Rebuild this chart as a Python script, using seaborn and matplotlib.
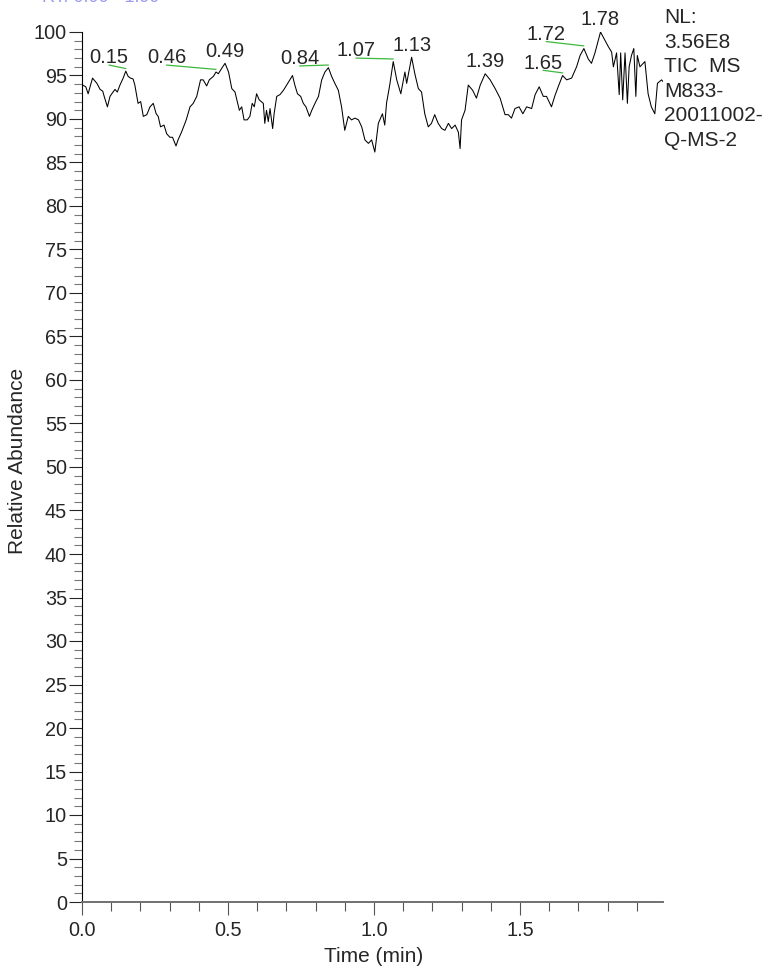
import numpy as np
import pandas as pd
import matplotlib
matplotlib.use("Agg")
import matplotlib.pyplot as plt
import seaborn as sns
from matplotlib.ticker import MultipleLocator, FormatStrFormatter

# TIC trace
time_min = [0.002, 0.013, 0.021, 0.036, 0.051, 0.062, 0.071, 0.076, 0.087, 0.096,
            0.102, 0.113, 0.121, 0.130, 0.141, 0.150, 0.158, 0.166, 0.175, 0.181,
            0.192, 0.201, 0.210, 0.222, 0.233, 0.244, 0.254, 0.261, 0.269, 0.281,
            0.290, 0.301, 0.310, 0.322, 0.329, 0.341, 0.357, 0.370, 0.381, 0.393,
            0.406, 0.415, 0.427, 0.436, 0.450, 0.459, 0.467, 0.478, 0.490, 0.502,
            0.513, 0.524, 0.539, 0.547, 0.555, 0.566, 0.575, 0.583, 0.590, 0.598,
            0.607, 0.621, 0.626, 0.632, 0.638, 0.644, 0.653, 0.658, 0.667, 0.678,
            0.690, 0.701, 0.712, 0.721, 0.729, 0.738, 0.749, 0.758, 0.767, 0.779,
            0.787, 0.798, 0.810, 0.821, 0.832, 0.844, 0.855, 0.866, 0.878, 0.889,
            0.900, 0.912, 0.923, 0.935, 0.947, 0.958, 0.969, 0.981, 0.992, 1.003,
            1.015, 1.029, 1.037, 1.043, 1.054, 1.066, 1.078, 1.092, 1.106, 1.112,
            1.129, 1.140, 1.152, 1.163, 1.174, 1.186, 1.197, 1.208, 1.220, 1.232,
            1.243, 1.255, 1.266, 1.278, 1.289, 1.295, 1.300, 1.312, 1.323, 1.338,
            1.351, 1.364, 1.381, 1.398, 1.415, 1.432, 1.449, 1.460, 1.471, 1.483,
            1.497, 1.510, 1.523, 1.540, 1.552, 1.566, 1.580, 1.591, 1.608, 1.620,
            1.631, 1.646, 1.660, 1.677, 1.694, 1.706, 1.719, 1.734, 1.745, 1.757,
            1.776, 1.787, 1.803, 1.814, 1.820, 1.831, 1.840, 1.845, 1.852, 1.860,
            1.868, 1.874, 1.882, 1.890, 1.897, 1.902, 1.911, 1.928, 1.939, 1.950,
            1.962, 1.971, 1.985, 1.990]
rel_abund = [93.9, 93.7, 92.9, 94.7, 94.1, 93.4, 93.2, 92.6, 91.4, 92.6,
             92.9, 93.4, 93.1, 93.9, 94.7, 95.5, 94.9, 94.7, 94.6, 93.9,
             91.8, 92.0, 90.3, 90.5, 91.4, 91.8, 90.6, 90.3, 89.1, 89.3,
             88.3, 87.9, 87.9, 86.9, 87.6, 88.5, 89.9, 91.4, 91.8, 92.6,
             94.5, 94.5, 93.8, 94.5, 94.9, 95.4, 95.2, 95.8, 96.4, 95.4,
             93.5, 93.1, 91.0, 91.4, 89.9, 89.9, 90.3, 91.8, 91.4, 92.9,
             92.2, 91.8, 89.5, 91.0, 89.7, 91.2, 88.9, 90.6, 92.6, 92.8,
             93.3, 93.9, 94.5, 95.0, 93.9, 92.9, 92.6, 91.8, 91.4, 90.3,
             91.0, 91.8, 92.6, 94.5, 95.4, 95.9, 94.9, 94.1, 93.3, 91.4,
             88.7, 90.3, 89.9, 90.1, 89.9, 89.1, 87.6, 87.2, 87.6, 86.2,
             89.5, 90.6, 89.3, 91.8, 93.9, 96.6, 94.5, 92.9, 95.4, 94.1,
             97.1, 95.2, 93.5, 93.1, 90.6, 89.1, 89.5, 90.5, 89.5, 88.9,
             88.7, 89.5, 88.9, 89.3, 88.5, 86.6, 89.9, 91.0, 93.9, 93.3,
             92.4, 93.9, 95.2, 94.5, 93.5, 92.4, 90.5, 90.5, 90.1, 91.2,
             91.4, 90.6, 91.4, 91.2, 92.8, 93.7, 92.6, 92.6, 91.4, 92.7,
             93.7, 95.0, 94.5, 94.7, 96.0, 97.3, 98.1, 96.9, 96.4, 97.6,
             100.0, 99.3, 98.3, 97.7, 96.0, 97.6, 92.8, 97.6, 92.2, 97.6,
             91.8, 96.0, 97.3, 98.1, 92.6, 97.3, 96.0, 96.6, 92.9, 91.4,
             90.6, 94.1, 94.5, 94.3]

peak_rt = [0.15, 0.46, 0.49, 0.84, 1.07, 1.13, 1.39, 1.65, 1.72, 1.78]
peak_labels = ["0.15", "0.46", "0.49", "0.84", "1.07", "1.13", "1.39", "1.65", "1.72", "1.78"]
nl_lines = ["NL:", "3.56E8", "TIC  MS", "M833-", "20011002-", "Q-MS-2"]

# labels that were pushed aside (center time, baseline) -> green leader line
label_moved = {"0.15": (0.0925, 96.4), "0.46": (0.289, 96.4), "0.84": (0.7455, 96.3),
               "1.07": (0.938, 97.2), "1.65": (1.579, 95.8), "1.72": (1.590, 99.1)}

sns.set_style("ticks")
plt.rcParams['font.family'] = ['Liberation Sans', 'DejaVu Sans']

df = pd.DataFrame({"Time (min)": time_min, "Relative Abundance": rel_abund})

W, H = 766, 966
fig = plt.figure(figsize=(W / 100, H / 100), dpi=100)
ax = fig.add_axes([82 / W, 64 / H, (663 - 82) / W, (902 - 32) / H])

sns.lineplot(data=df, x="Time (min)", y="Relative Abundance", ax=ax,
             color="black", linewidth=0.75, estimator=None, sort=False)

ax.set_xlim(0, 1.99)
ax.set_ylim(0, 100)
ax.set_xlabel("")
ax.set_ylabel("")

ax.xaxis.set_major_locator(MultipleLocator(0.5))
ax.xaxis.set_minor_locator(MultipleLocator(0.1))
ax.yaxis.set_major_locator(MultipleLocator(5))
ax.yaxis.set_minor_locator(MultipleLocator(1))
ax.xaxis.set_major_formatter(FormatStrFormatter('%.1f'))

for s in ["top", "right"]:
    ax.spines[s].set_visible(False)
ax.spines["left"].set_color("black")
ax.spines["left"].set_linewidth(0.8)
ax.spines["bottom"].set_color("#707070")
ax.spines["bottom"].set_linewidth(1.4)

ax.tick_params(axis="both", which="major", length=9.4, width=0.8, labelsize=14.3)
ax.tick_params(axis="y", which="major", pad=1.5)
ax.tick_params(axis="x", which="major", pad=4.5, color="#555555")
ax.tick_params(axis="y", which="minor", length=5.6, width=0.8, color="#777777")
ax.tick_params(axis="x", which="minor", length=6.5, width=0.8, color="#555555")

# peak labels
t_arr = np.array(time_min)
v_arr = np.array(rel_abund)
for rt, lab in zip(peak_rt, peak_labels):
    win = np.abs(t_arr - rt) <= 0.012
    i = np.argmax(np.where(win, v_arr, -1))
    pt, pv = t_arr[i], v_arr[i]
    if lab in label_moved:
        lx, ly = label_moved[lab]
        ax.plot([lx, pt], [ly - 0.2, pv + 0.3], color="#3cb83c", linewidth=0.9,
                clip_on=False)
        ax.text(lx, ly, lab, fontsize=14.5, ha="center", va="baseline", clip_on=False)
    else:
        ax.text(pt, pv + 0.75, lab, fontsize=14.5, ha="center", va="baseline", clip_on=False)

for k, line in enumerate(nl_lines):
    fig.text(664 / W, 1 - (23.3 + 24.5 * k) / H, line, fontsize=15,
             ha="left", va="baseline")
fig.text(18 / W, 1 - 461 / H, "Relative Abundance", fontsize=15, rotation=90,
         ha="center", va="center")
fig.text(374 / W, 1 - 962 / H, "Time (min)", fontsize=15, ha="center", va="baseline")
# header line, cut off by the top edge in the original export
fig.text(42 / W, 1 - 2 / H, "RT: 0.00 - 1.99", fontsize=13, color="#9a9af0",
         ha="left", va="baseline")

fig.savefig("out.png", dpi=100)
